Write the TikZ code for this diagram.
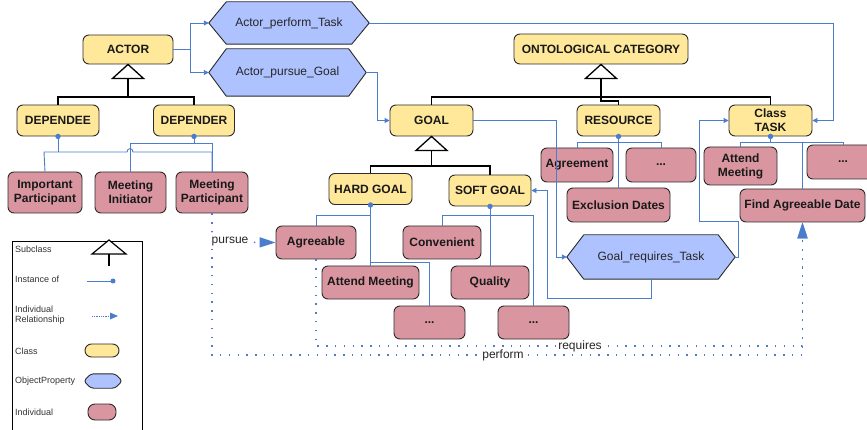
\documentclass[tikz,border=0pt]{standalone}
\usepackage{fontspec}
\setmainfont{Liberation Sans}
\usetikzlibrary{arrows.meta,backgrounds}

\definecolor{clsfill}{HTML}{FFE89A}
\definecolor{propfill}{HTML}{AEC2FF}
\definecolor{indfill}{HTML}{DA96A0}
\definecolor{linkblue}{HTML}{4A7DCB}
\definecolor{edgegray}{HTML}{2B2B2B}

% hexagonal outline behind a property node: #1 node name, #2 corner inset
\newcommand\hexshape[2]{%
  \begin{scope}[on background layer]
    \draw[hexa] (#1.west) -- ([xshift=#2]#1.north west) -- ([xshift=-#2]#1.north east)
      -- (#1.east) -- ([xshift=-#2]#1.south east) -- ([xshift=#2]#1.south west) -- cycle;
  \end{scope}}

\begin{document}
\begin{tikzpicture}[x=1pt,y=-1pt,
  sz/.style 2 args={minimum width=#1pt, minimum height=#2pt},
  box/.style={draw=edgegray, line width=0.9pt, rounded corners=6pt, inner sep=0pt,
    align=center, font=\fontsize{12}{14}\selectfont\bfseries, text=black!90},
  cls/.style={box, fill=clsfill},
  ind/.style={box, fill=indfill},
  prop/.style={inner sep=0pt, align=center, font=\fontsize{12}{14}\selectfont, text=black!85},
  hexa/.style={fill=propfill, draw=edgegray, line width=0.9pt, line join=round},
  sub/.style={draw=black, line width=1.3pt},
  subtri/.style={draw=black, line width=1.3pt, fill=white, line join=miter},
  inst/.style={draw=linkblue, line width=0.9pt},
  prl/.style={draw=linkblue, line width=0.9pt, -{Triangle[length=5pt,width=5pt]}},
  rel/.style={draw=linkblue, line width=1.4pt, dash pattern=on 1.4pt off 7.4pt,
    -{Triangle[length=16pt,width=10pt]}},
  lbl/.style={font=\fontsize{12}{14}\selectfont, text=black!85, fill=white, inner sep=0.5pt},
  legtext/.style={font=\fontsize{9}{10.5}\selectfont, text=black!80, inner sep=0pt, anchor=west, align=left},
]
\useasboundingbox (0,0) rectangle (867,430);
\begin{scope}[on background layer]
  \fill[white] (0,0) rectangle (867,430);
\end{scope}

% ---------- classes ----------
\node[cls, sz={90}{29}] (actor) at (128,49.5) {ACTOR};
\node[cls, sz={82}{31}] (dependee) at (58,120.5) {DEPENDEE};
\node[cls, sz={81}{31}] (depender) at (194,120.5) {DEPENDER};
\node[cls, sz={174}{30}] (onto) at (601,49) {ONTOLOGICAL CATEGORY};
\node[cls, sz={83}{31}] (goal) at (431.5,120.5) {GOAL};
\node[cls, sz={83}{31}] (resource) at (618.5,120.5) {RESOURCE};
\node[cls, sz={83}{31}] (task) at (770.5,120.5) {Class\\TASK};
\node[cls, sz={83}{31}] (hardgoal) at (370.5,189) {HARD GOAL};
\node[cls, sz={82}{31}] (softgoal) at (490,190.5) {SOFT GOAL};

% ---------- object properties ----------
\node[prop, sz={160}{42}] (apt) at (289,23) {Actor\_perform\_Task};
\node[prop, sz={157}{47}] (apg) at (287.5,72.5) {Actor\_pursue\_Goal};
\node[prop, sz={168}{44}] (grt) at (651,257) {Goal\_requires\_Task};
\hexshape{apt}{17.5pt}
\hexshape{apg}{17.5pt}
\hexshape{grt}{17pt}

% ---------- individuals ----------
\node[ind, sz={74}{41}] (impp) at (45,192.5) {Important\\Participant};
\node[ind, sz={71}{41}] (mini) at (130.5,192.5) {Meeting\\Initiator};
\node[ind, sz={72}{41}] (mpart) at (212,192.5) {Meeting\\Participant};
\node[ind, sz={72}{34}] (agreement) at (577,165) {Agreement};
\node[ind, sz={70}{34}] (rdots) at (661,165) {...};
\node[ind, sz={103}{34}] (exdates) at (618.5,205) {Exclusion Dates};
\node[ind, sz={73}{38}] (amtask) at (740.5,166) {Attend\\Meeting};
\node[ind, sz={72}{34}] (tdots) at (843,162) {...};
\node[ind, sz={125}{33}] (fad) at (802.5,205.5) {Find Agreeable Date};
\node[ind, sz={80}{33}] (agreeable) at (316,242.5) {Agreeable};
\node[ind, sz={97}{33}] (amgoal) at (370.5,282.5) {Attend Meeting};
\node[ind, sz={71}{33}] (hdots) at (429.5,322.5) {...};
\node[ind, sz={78}{33}] (convenient) at (442,242.5) {Convenient};
\node[ind, sz={78}{33}] (quality) at (490,282.5) {Quality};
\node[ind, sz={71}{33}] (sdots) at (533.5,322.5) {...};

% ---------- subclass trees ----------
\draw[sub] (128,78) -- (128,97) -| (dependee.north);
\draw[sub] (128,97) -| (depender.north);
\draw[subtri] (actor.south) -- ++(15.5,14) -- ++(-31,0) -- cycle;

\draw[sub] (601,78) -- (601,101) -| (resource.north);
\draw[sub] (goal.north) -- (431.5,97) -| (task.north);
\draw[subtri] (onto.south) -- ++(15.5,14) -- ++(-31,0) -- cycle;

\draw[sub] (431.5,150) -- (431.5,166) -| (hardgoal.north);
\draw[sub] (431.5,166) -| (softgoal.north);
\draw[subtri] (goal.south) -- ++(15.5,14) -- ++(-31,0) -- cycle;

% ---------- instance-of links ----------
\draw[inst] (dependee.south) -- (58,152);
\draw[inst] (impp.north) -- (44,152) -- (127,152)
  .. controls (127,147.5) and (133,147.5) .. (133,152) -- (212,152) -- (mpart.north);
\draw[inst] (depender.south) -- (194,143);
\draw[inst] (mini.north) -- (130.5,143) -- (212,143) -- (mpart.north);

\draw[inst] (resource.south) -- (exdates.north);
\draw[inst] (agreement.north) -- (577,142) -| (rdots.north);

\draw[inst] (task.south) -- (770.5,142);
\draw[inst] (amtask.north) -- (740.5,142) -| (tdots.north);
\draw[inst] (802.5,142) -- (fad.north);

\draw[inst] (hardgoal.south) -- (amgoal.north);
\draw[inst] (370.5,215) -| (agreeable.north);
\draw[inst] (370.5,262) -| (hdots.north);

\draw[inst] (softgoal.south) -- (quality.north);
\draw[inst] (convenient.north) -- (442,215) -| (sdots.north);

\foreach \n in {dependee,depender,resource,task,hardgoal,softgoal}
  \fill[linkblue] (\n.south) circle (2.7pt);

% ---------- object property links ----------
\draw[prl] (actor.east) -- (190,49.5) |- (apt.west);
\draw[prl] (actor.east) -- (190,49.5) |- (apg.west);
\draw[prl] (apt.east) -| (833,120.5) -- (task.east);
\draw[prl] (apg.east) -| (377,120.5) -- (goal.west);
\draw[prl] (goal.east) -| (556,257) -- (grt.west);
\draw[prl] (grt.south) |- (547,298) |- (softgoal.east);
\draw[prl] (grt.east) -- ++(3,0) |- (699,221) |- (task.west);

% ---------- individual relationships ----------
\draw[rel] (mpart.south) -- (212,242) -- (agreeable.west);
\draw[rel] (mpart.south) -- (212,355) -| (fad.south);
\draw[rel] (agreeable.south) -- (316,346) -| (fad.south);
\node[lbl, anchor=west] (lpursue) at (211,242) {pursue};
\node[lbl] (lperform) at (503,355) {perform};
\node[lbl] (lrequires) at (580,346) {requires};

% ---------- legend ----------
\draw[line width=0.8pt] (12,241) rectangle (142,445);
\node[legtext] (lgsub) at (15,249) {Subclass};
\node[legtext] (lginst) at (15,279) {Instance of};
\node[legtext] (lgrel) at (15,315) {Individual\\Relationship};
\node[legtext] (lgcls) at (15,351) {Class};
\node[legtext] (lgprop) at (15,381) {ObjectProperty};
\node[legtext] (lgind) at (15,412) {Individual};

\draw[black, line width=1.2pt] (109,254) -- (109,266);
\draw[subtri, line width=1.2pt] (109,240) -- (126,254) -- (92,254) -- cycle;
\draw[linkblue, line width=0.9pt] (87,281) -- (112,281);
\fill[linkblue] (113,281) circle (2.5pt);
\draw[linkblue, line width=0.8pt, dash pattern=on 0.8pt off 1pt] (92,316) -- (110,316);
\fill[linkblue] (110,312.5) -- (118,316) -- (110,319.5) -- cycle;
\node[cls, sz={34}{13}, rounded corners=6.5pt] (lgclsbox) at (102,350.5) {};
\node[prop, sz={38}{14}] (lgpropbox) at (103,381) {};
\begin{scope}[on background layer]
  \draw[hexa, rounded corners=3pt] (lgpropbox.west) -- ([xshift=7pt]lgpropbox.north west)
    -- ([xshift=-7pt]lgpropbox.north east) -- (lgpropbox.east)
    -- ([xshift=-7pt]lgpropbox.south east) -- ([xshift=7pt]lgpropbox.south west) -- cycle;
\end{scope}
\node[ind, sz={28}{16}, rounded corners=7pt] (lgindbox) at (102,412) {};
\end{tikzpicture}
\end{document}
